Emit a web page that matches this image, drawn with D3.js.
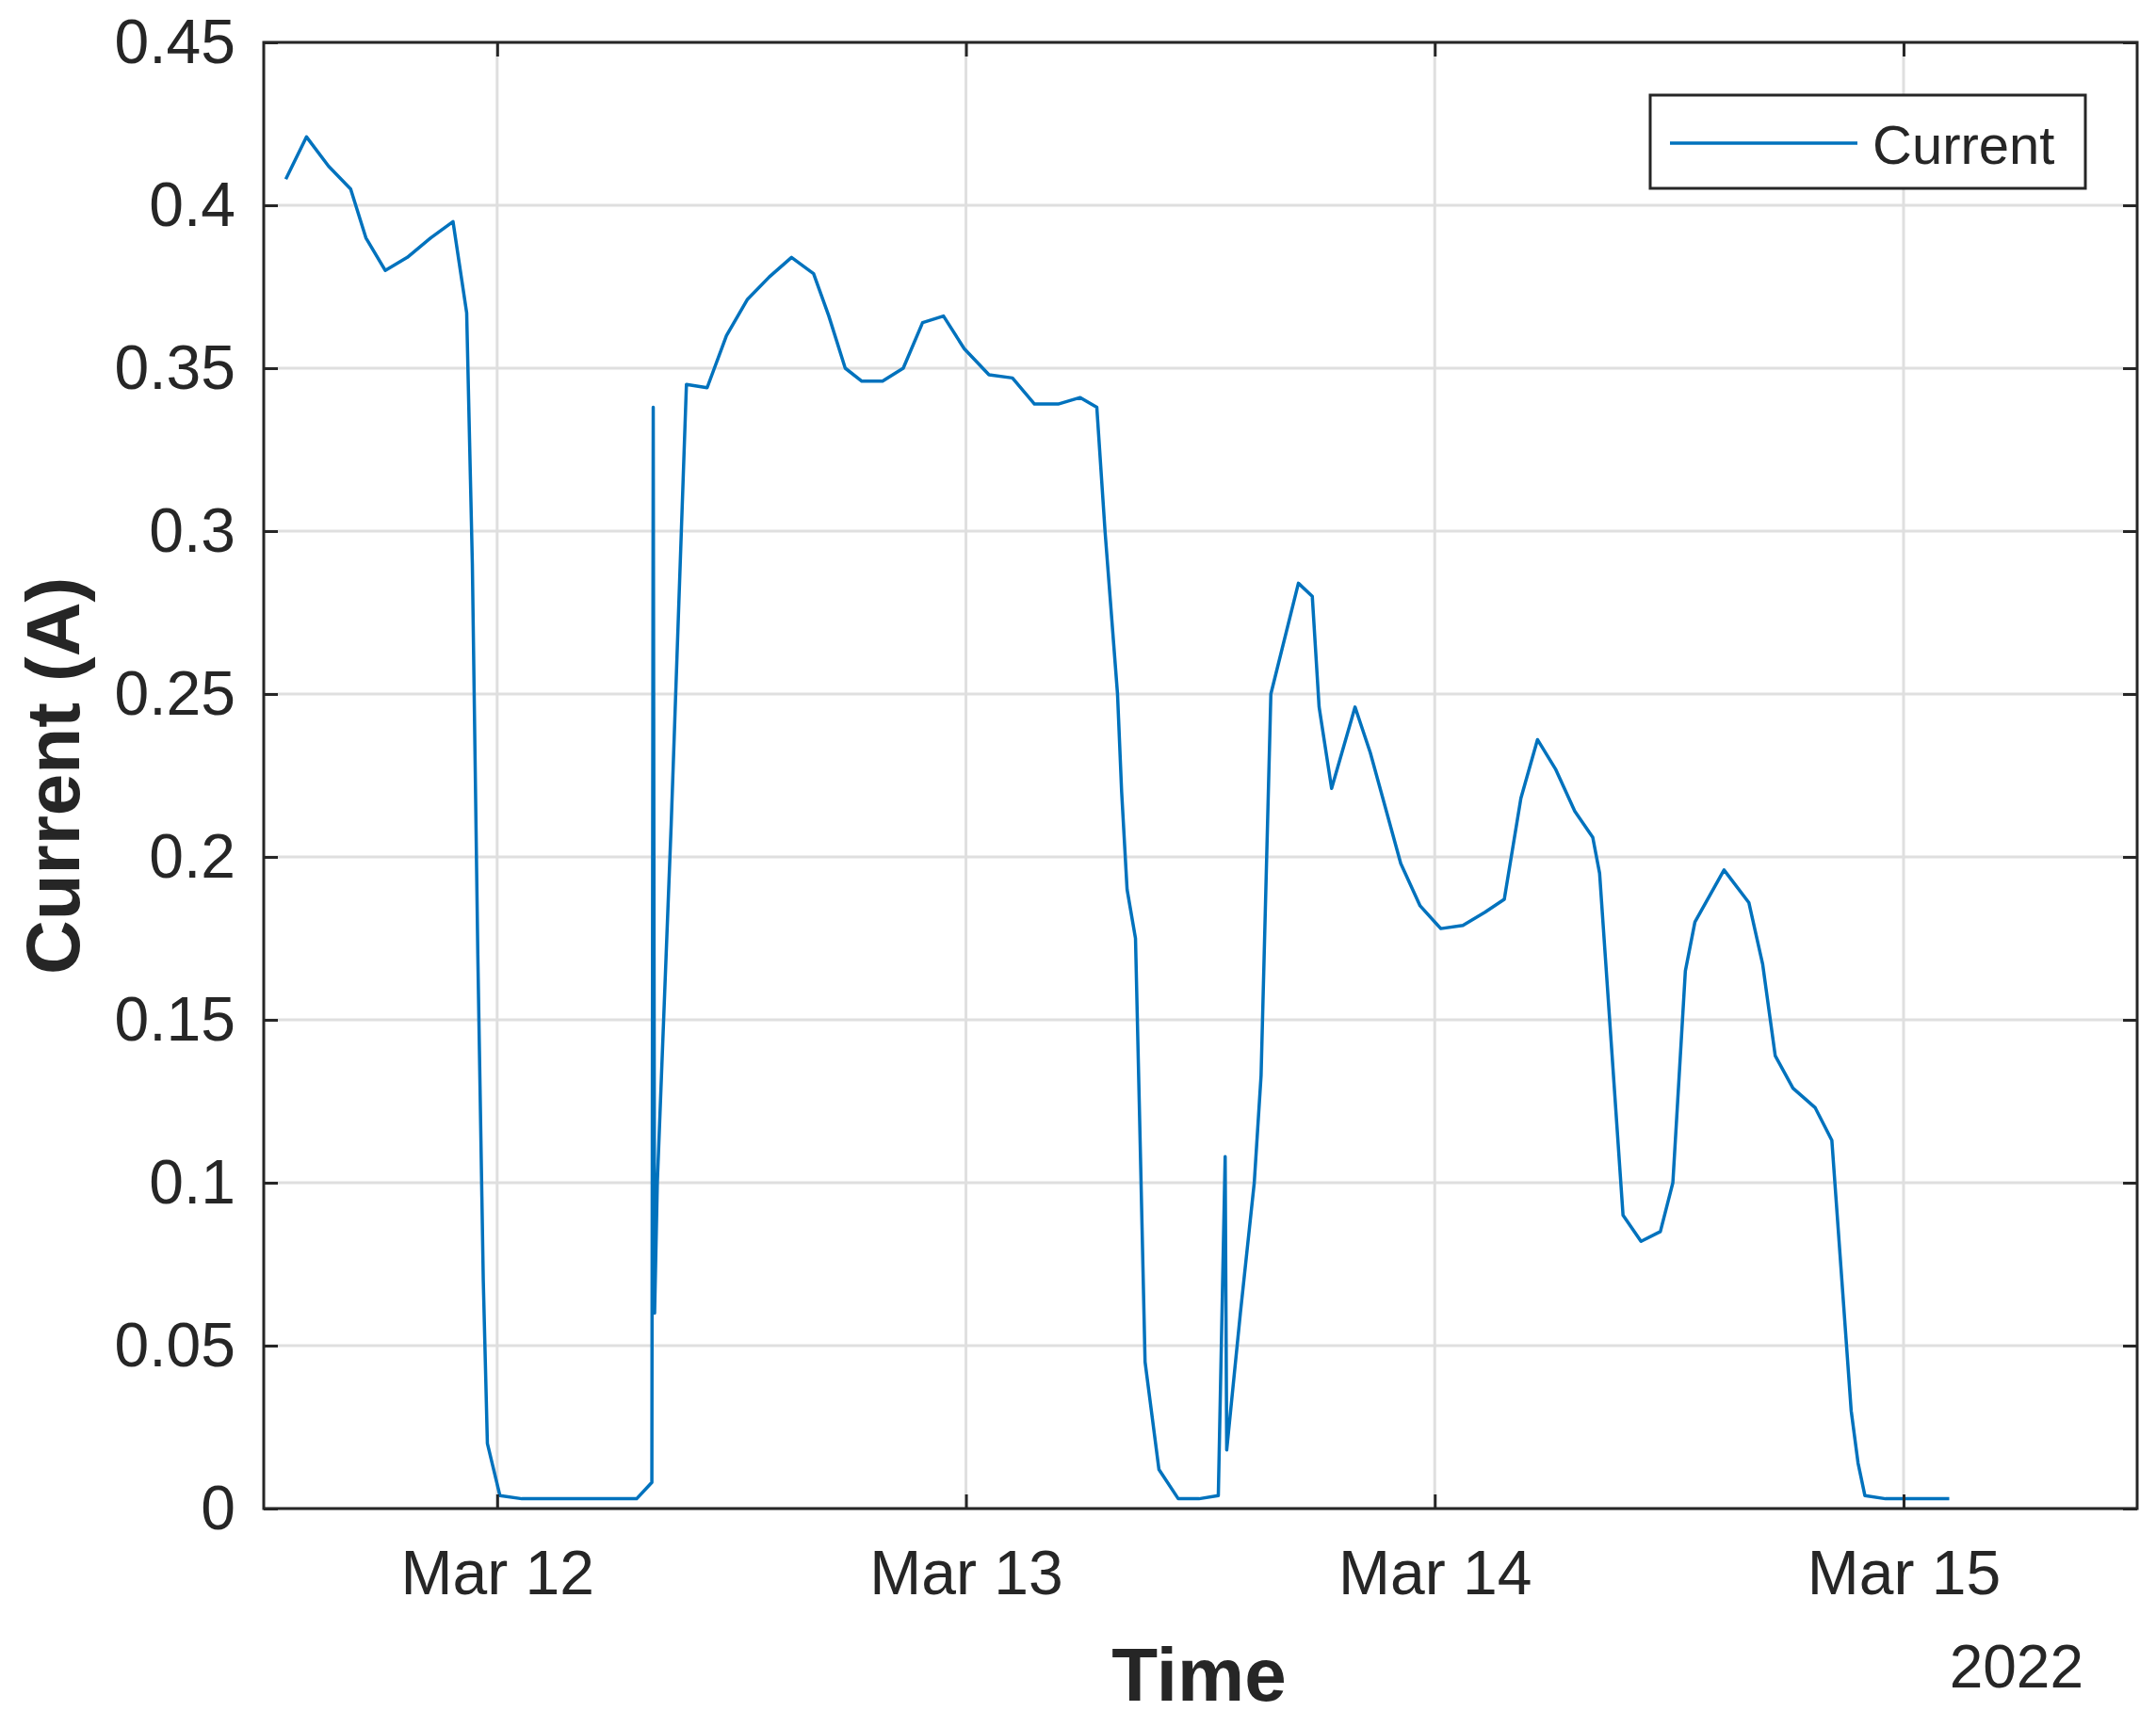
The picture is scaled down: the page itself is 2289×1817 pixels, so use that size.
<!DOCTYPE html>
<html>
<head>
<meta charset="utf-8">
<script src="https://cdn.jsdelivr.net/npm/d3@7"></script>
<style>
  body { margin: 0; background: #fff; }
  text { font-family: "Liberation Sans", Arial, sans-serif; fill: #262626; }
</style>
</head>
<body>
<div id="chart"></div>
<script>
// data: hours since 2022-03-11 00:00, current in A
const HOURS = [13.18, 14.24, 15.37, 16.50, 17.28, 18.27, 19.40, 20.60, 21.74, 22.44, 22.73, 23.01, 23.29, 23.50,
  24.14, 25.27, 27.54, 29.66, 31.14, 31.92, 31.99, 32.06, 32.20, 32.91, 33.69, 34.75, 35.74, 36.80, 37.93,
  39.07, 40.20, 40.98, 41.82, 42.67, 43.73, 44.79, 45.78, 46.85, 47.91, 49.18, 50.38, 51.51, 52.72, 53.85,
  54.70, 55.12, 55.76, 55.97, 56.25, 56.68, 56.89, 57.17, 57.88, 58.87, 59.93, 60.92, 61.27, 61.35, 62.05,
  62.76, 63.11, 63.61, 65.02, 65.73, 66.08, 66.72, 67.92, 68.70, 70.26, 71.25, 72.31, 73.44, 74.57, 75.56,
  76.41, 77.26, 78.18, 79.17, 80.09, 80.44, 81.64, 82.56, 83.55, 84.19, 84.83, 85.32, 86.81, 88.08, 88.79,
  89.43, 90.34, 91.48, 92.33, 93.32, 93.67, 94.02, 95.08, 98.34];
const CURRENT = [0.408, 0.421, 0.412, 0.405, 0.390, 0.380, 0.384, 0.390, 0.395, 0.367, 0.29, 0.17, 0.07, 0.020,
  0.004, 0.003, 0.003, 0.003, 0.003, 0.008, 0.338, 0.060, 0.10, 0.21, 0.345, 0.344, 0.360, 0.371, 0.378,
  0.384, 0.379, 0.366, 0.350, 0.346, 0.346, 0.350, 0.364, 0.366, 0.356, 0.348, 0.347, 0.339, 0.339, 0.341,
  0.338, 0.30, 0.25, 0.22, 0.19, 0.175, 0.12, 0.045, 0.012, 0.003, 0.003, 0.004, 0.108, 0.018, 0.060,
  0.100, 0.133, 0.250, 0.284, 0.280, 0.246, 0.221, 0.246, 0.232, 0.198, 0.185, 0.178, 0.179, 0.183, 0.187,
  0.218, 0.236, 0.227, 0.214, 0.206, 0.195, 0.090, 0.082, 0.085, 0.100, 0.165, 0.180, 0.196, 0.186, 0.167,
  0.139, 0.129, 0.123, 0.113, 0.030, 0.014, 0.004, 0.003, 0.003];
const Y_TICKS = [0, 0.05, 0.1, 0.15, 0.2, 0.25, 0.3, 0.35, 0.4, 0.45];
const SERIES_NAME = "Current";

const BASE = new Date(2022, 2, 11, 0, 0);
const toDate = (h) => new Date(BASE.getTime() + h * 3600 * 1000);
const data = HOURS.map((h, i) => ({t: toDate(h), v: CURRENT[i]}));

// frame
const FRAME_WIDTH = 2289;
const FRAME_HEIGHT = 1817;
const PLOT = {left: 280, right: 2269, top: 45, bottom: 1602};
const AXIS_COLOR = "#262626";
const TICK_LEN = 15;

const svg = d3.select("#chart").append("svg")
  .attr("width", FRAME_WIDTH).attr("height", FRAME_HEIGHT);

const X_SCALE = d3.scaleTime()
  .domain([toDate(12.05), toDate(107.96)])
  .range([PLOT.left, PLOT.right]);
const Y_SCALE = d3.scaleLinear()
  .domain([0, 0.45])
  .range([PLOT.bottom, PLOT.top]);

const xTicks = X_SCALE.ticks(d3.timeDay.every(1));

// grid
svg.append("g").selectAll("line").data(Y_TICKS).enter().append("line")
  .attr("x1", PLOT.left).attr("x2", PLOT.right)
  .attr("y1", (d) => Y_SCALE(d)).attr("y2", (d) => Y_SCALE(d))
  .attr("stroke", "#dfdfdf").attr("stroke-width", 3);
svg.append("g").selectAll("line").data(xTicks).enter().append("line")
  .attr("x1", (d) => X_SCALE(d)).attr("x2", (d) => X_SCALE(d))
  .attr("y1", PLOT.top).attr("y2", PLOT.bottom)
  .attr("stroke", "#dfdfdf").attr("stroke-width", 3);

// line
svg.append("path").datum(data)
  .attr("fill", "none").attr("stroke", "#0072BD").attr("stroke-width", 3.5)
  .attr("stroke-linejoin", "round")
  .attr("d", d3.line().x((d) => X_SCALE(d.t)).y((d) => Y_SCALE(d.v)));

// axes (ticks inward on all sides)
const tickStyle = (g) => {
  g.select(".domain").remove();
  g.selectAll(".tick line").attr("stroke", AXIS_COLOR).attr("stroke-width", 3);
  g.selectAll(".tick text").attr("fill", AXIS_COLOR).attr("font-size", 66)
    .style("font-family", "'Liberation Sans', Arial, sans-serif");
};
svg.append("g").attr("transform", "translate(" + PLOT.left + ",0)")
  .call(d3.axisLeft(Y_SCALE).tickValues(Y_TICKS).tickFormat(d3.format("")).tickSizeInner(-TICK_LEN).tickPadding(30))
  .call(tickStyle);
svg.append("g").attr("transform", "translate(" + PLOT.right + ",0)")
  .call(d3.axisRight(Y_SCALE).tickValues(Y_TICKS).tickFormat("").tickSizeInner(-TICK_LEN))
  .call(tickStyle);
svg.append("g").attr("transform", "translate(0," + PLOT.bottom + ")")
  .call(d3.axisBottom(X_SCALE).tickValues(xTicks).tickFormat(d3.timeFormat("%b %d")).tickSizeInner(-TICK_LEN).tickPadding(44))
  .call(tickStyle);
svg.append("g").attr("transform", "translate(0," + PLOT.top + ")")
  .call(d3.axisTop(X_SCALE).tickValues(xTicks).tickFormat("").tickSizeInner(-TICK_LEN))
  .call(tickStyle);

// box
svg.append("rect")
  .attr("x", PLOT.left).attr("y", PLOT.top)
  .attr("width", PLOT.right - PLOT.left).attr("height", PLOT.bottom - PLOT.top)
  .attr("fill", "none").attr("stroke", AXIS_COLOR).attr("stroke-width", 3);

// labels
svg.append("text").attr("x", 1273).attr("y", 1806)
  .attr("text-anchor", "middle").attr("font-size", 80).attr("font-weight", "bold")
  .text("Time");
svg.append("text").attr("x", 2212).attr("y", 1792)
  .attr("text-anchor", "end").attr("font-size", 64)
  .text("2022");
svg.append("text").attr("transform", "translate(84,824) rotate(-90)")
  .attr("text-anchor", "middle").attr("font-size", 80).attr("font-weight", "bold")
  .text("Current (A)");

// legend
const legend = svg.append("g");
legend.append("rect").attr("x", 1752).attr("y", 101).attr("width", 462).attr("height", 99)
  .attr("fill", "#fff").attr("stroke", AXIS_COLOR).attr("stroke-width", 3);
legend.append("line").attr("x1", 1773).attr("x2", 1972).attr("y1", 152).attr("y2", 152)
  .attr("stroke", "#0072BD").attr("stroke-width", 3.5);
legend.append("text").attr("x", 1988).attr("y", 174).attr("font-size", 58)
  .attr("fill", "#000").text(SERIES_NAME);
</script>
</body>
</html>
